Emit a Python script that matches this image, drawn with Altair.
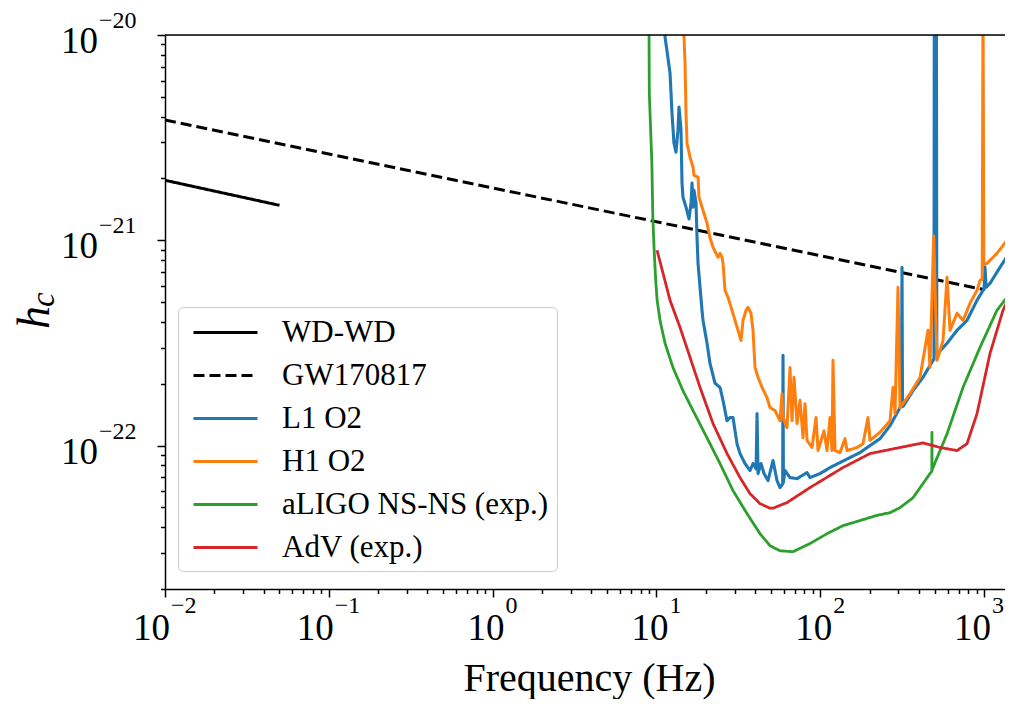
import altair as alt
import pandas as pd

FONT = "Liberation Serif"

series_names = ["WD-WD", "GW170817", "L1 O2", "H1 O2", "aLIGO NS-NS (exp.)", "AdV (exp.)"]
series_colors = ["#000000", "#000000", "#1f77b4", "#ff7f0e", "#2ca02c", "#d62728"]
series_dash = [[1, 0], [11, 5], [1, 0], [1, 0], [1, 0], [1, 0]]
series_width = [3.0, 3.0, 3.1, 3.0, 2.8, 2.8]

wd_f = [0.01, 0.05]
wd_h = [1.96e-21, 1.48e-21]

gw_f = [0.01, 980]
gw_h = [3.85e-21, 5.77e-22]

l1_f = [11.2, 11.29, 12.11, 12.45, 12.80, 13.17, 13.54, 13.74, 14.13, 14.33, 14.53, 15.16, 15.82,
        16.27, 16.50, 16.73, 16.96, 17.45, 17.70, 17.95, 18.98, 19.25, 20.37, 21.24, 22.80, 24.45,
        25.50, 26.98, 28.14, 29.35, 31.05, 32.39, 34.75, 37.27, 38.88, 40.6, 41.14, 41.72, 43.51,
        45.38, 48.01, 51.50, 54.48, 56.83, 59.0, 59.28, 59.6, 60.96, 65.41, 72.20, 83.07, 86.65,
        99.72, 114.8, 132.1, 152.0, 175.0, 201.4, 231.8, 266.8, 307.0, 313.0, 315.8, 318.0, 320.3,
        368.6, 424.3, 488.2, 495.0, 497.0, 512.0, 515.0, 523.7, 594.5, 684.2, 787.3, 906.2, 986.0,
        1000, 1014, 1030, 1088, 1252, 1503]
l1_h = [1.2e-20, 9.78e-21, 6.53e-21, 4.16e-21, 2.97e-21, 2.69e-21, 3.44e-21, 4.46e-21, 3.44e-21,
        1.90e-21, 1.62e-21, 1.45e-21, 1.27e-21, 1.52e-21, 1.90e-21, 1.45e-21, 1.75e-21, 1.52e-21,
        1.03e-21, 7.72e-22, 4.56e-22, 4.07e-22, 3.15e-22, 2.51e-22, 2.01e-22, 1.92e-22, 1.66e-22,
        1.32e-22, 1.37e-22, 1.37e-22, 1.02e-22, 9.14e-23, 8.17e-23, 7.55e-23, 8.17e-23, 7.7e-23,
        1.43e-22, 7.30e-23, 8.17e-23, 7.30e-23, 6.75e-23, 8.45e-23, 6.75e-23, 6.24e-23, 6.5e-23,
        2.75e-22, 6.6e-23, 7.55e-23, 6.98e-23, 6.90e-23, 7.38e-23, 6.98e-23, 7.30e-23, 7.81e-23,
        8.26e-23, 8.74e-23, 9.24e-23, 1.0e-22, 1.08e-22, 1.25e-22, 1.53e-22, 1.55e-22, 7.38e-22,
        1.56e-22, 1.55e-22, 1.85e-22, 2.15e-22, 2.60e-22, 2.63e-22, 1.5e-20, 1.5e-20, 2.78e-22,
        2.81e-22, 3.15e-22, 3.64e-22, 4.07e-22, 5.10e-22, 5.70e-22, 5.75e-22, 7.38e-22, 5.9e-22,
        6.17e-22, 7.38e-22, 9.24e-22]

h1_f = [14.6, 14.74, 14.95, 15.16, 15.38, 16.04, 16.73, 16.96, 17.95, 18.20, 19.25, 20.37, 21.24,
        22.16, 23.78, 24.45, 25.15, 25.50, 26.23, 27.36, 28.94, 30.20, 31.49, 32.85, 33.79, 35.24,
        36.24, 37.80, 38.88, 39.99, 41.72, 44.13, 47.34, 49.38, 52.97, 56.83, 58.45, 59.28, 62.71,
        65.41, 67.27, 69.18, 72.20, 75.31, 78.52, 80.75, 83.07, 89.12, 94.27, 96.96, 105.5, 110.0,
        114.8, 118.0, 119.7, 123.1, 132.1, 141.7, 145.7, 167.8, 182.5, 195.8, 201.4, 231.8, 266.8,
        278.3, 286.2, 298.5, 307.0, 353.4, 406.8, 455.0, 468.0, 493.0, 516.5, 562.0, 594.5, 620.1,
        684.2, 744.5, 821.3, 906.2, 945.5, 975.0, 986.0, 997.0, 1043, 1200, 1382, 1410, 1440, 1503]
h1_h = [1.2e-20, 9.78e-21, 7.30e-21, 4.16e-21, 2.97e-21, 2.54e-21, 2.27e-21, 2.07e-21, 2.03e-21,
        1.62e-21, 1.40e-21, 1.21e-21, 1.03e-21, 9.24e-22, 8.26e-22, 8.64e-22, 8.26e-22, 7.72e-22,
        5.70e-22, 5.27e-22, 4.56e-22, 4.07e-22, 3.64e-22, 3.25e-22, 4.07e-22, 4.56e-22, 4.71e-22,
        4.41e-22, 3.64e-22, 2.40e-22, 2.15e-22, 1.92e-22, 1.71e-22, 1.53e-22, 1.48e-22, 1.32e-22,
        1.79e-22, 1.37e-22, 1.22e-22, 2.40e-22, 1.32e-22, 2.15e-22, 1.28e-22, 1.66e-22, 1.09e-22,
        1.60e-22, 1.06e-22, 9.78e-23, 1.37e-22, 9.45e-23, 1.18e-22, 9.45e-23, 1.37e-22, 9.45e-23,
        2.60e-22, 9.45e-23, 9.24e-23, 1.08e-22, 9.45e-23, 9.78e-23, 1.02e-22, 1.37e-22, 1.06e-22,
        1.16e-22, 1.32e-22, 1.92e-22, 1.43e-22, 5.90e-22, 1.53e-22, 1.79e-22, 2.15e-22, 3.64e-22,
        2.40e-22, 1.05e-21, 2.60e-22, 3.25e-22, 6.60e-22, 3.64e-22, 4.41e-22, 4.07e-22, 4.93e-22,
        5.70e-22, 6.38e-22, 6.45e-22, 1.5e-20, 7.6e-22, 7.72e-22, 8.64e-22, 1.0e-21, 1.5e-20,
        1.03e-21, 1.08e-21]

ligo_f = [9.0, 9.05, 9.38, 9.51, 9.67, 9.90, 10.1, 10.52, 11.29, 12.62, 14.53, 16.73, 20.37, 24.45,
          29.35, 35.74, 42.90, 49.38, 56.83, 68.24, 86.65, 110.0, 137.8, 175.0, 220.3, 266.8, 307.0,
          368.6, 424.3, 468.0, 480.0, 481.0, 482.0, 488.2, 594.5, 744.5, 945.5, 1200, 1441, 1503]
ligo_h = [1.3e-20, 5.21e-21, 2.37e-21, 1.29e-21, 9.24e-22, 6.38e-22, 5.10e-22, 4.07e-22, 3.15e-22,
          2.40e-22, 1.85e-22, 1.48e-22, 1.09e-22, 8.17e-23, 6.03e-23, 4.66e-23, 3.72e-23, 3.25e-23,
          3.07e-23, 3.04e-23, 3.33e-23, 3.72e-23, 4.07e-23, 4.31e-23, 4.56e-23, 4.71e-23, 4.98e-23,
          5.57e-23, 6.53e-23, 7.30e-23, 7.5e-23, 1.16e-22, 7.6e-23, 7.81e-23, 1.14e-22, 1.92e-22,
          3.01e-22, 4.56e-22, 5.51e-22, 5.9e-22]

adv_f = [10.09, 12.11, 13.94, 16.04, 18.46, 22.16, 26.98, 32.39, 37.27, 42.90, 49.38, 51.5, 62.71,
         86.65, 137.8, 201.4, 307.0, 424.3, 538.7, 684.2, 787.3, 906.2, 1088, 1306, 1503]
adv_h = [8.94e-22, 5.10e-22, 3.76e-22, 2.69e-22, 1.92e-22, 1.28e-22, 9.14e-23, 6.98e-23, 5.83e-23,
         5.21e-23, 4.95e-23, 4.95e-23, 5.27e-23, 6.24e-23, 7.81e-23, 9.14e-23, 9.78e-23, 1.03e-22,
         9.78e-23, 9.45e-23, 1.02e-22, 1.43e-22, 2.81e-22, 4.56e-22, 5.83e-22]

x_major = [0.01, 0.1, 1, 10, 100, 1000]
x_exp = ["\u22122", "\u22121", "0", "1", "2", "3"]
y_major = [1e-20, 1e-21, 1e-22]
y_exp = ["\u221220", "\u221221", "\u221222"]

x_ticks = [round(m * k, 6) for m in [0.01, 0.1, 1, 10, 100] for k in range(1, 10)] + [1000]
y_ticks = [m * k for m in [1e-23, 1e-22, 1e-21] for k in range(2, 10)] + y_major

rows = []
for name, fs, hs in [("WD-WD", wd_f, wd_h), ("GW170817", gw_f, gw_h), ("L1 O2", l1_f, l1_h),
                     ("H1 O2", h1_f, h1_h), ("aLIGO NS-NS (exp.)", ligo_f, ligo_h),
                     ("AdV (exp.)", adv_f, adv_h)]:
    for f, h in zip(fs, hs):
        rows.append({"series": name, "f": f, "h": h})
df = pd.DataFrame(rows)

# visible plot area: the page is 1013 px wide with an 8 px margin, so the svg stops at 997 px
W, H = 840, 554
xscale = alt.Scale(type="log", domain=[0.01, 1343], nice=False)
yscale = alt.Scale(type="log", domain=[2e-23, 1e-20], nice=False)

major_test = "abs(log(datum.value)/LN10 - round(log(datum.value)/LN10)) < 0.001"
tick_size = {"condition": {"test": major_test, "value": 8}, "value": 4.5}

xaxis = alt.Axis(values=x_ticks, labels=False, grid=False, tickSize=tick_size, tickColor="black",
                 tickWidth=1.5, domainColor="black", domainWidth=1.5, title="Frequency (Hz)",
                 titleFont=FONT, titleFontSize=40, titleFontWeight="normal", titleColor="black",
                 titleBaseline="alphabetic", titleY=101, titleX=424)
yaxis = alt.Axis(values=y_ticks, labels=False, grid=False, tickSize=tick_size, tickColor="black",
                 tickWidth=1.5, domainColor="black", domainWidth=1.5, title=None)

X = alt.X("f:Q", scale=xscale, axis=xaxis)
Y = alt.Y("h:Q", scale=yscale, axis=yaxis)

legend = alt.Legend(orient="none", legendX=13, legendY=272, title=None, labelFont=FONT,
                    labelFontSize=31, labelColor="black", labelLimit=500,
                    symbolType="M-2,0H2", symbolSize=1024, symbolStrokeWidth=3,
                    symbolOffset=22, labelOffset=39, padding=8, rowPadding=10,
                    strokeColor="#cccccc", cornerRadius=5, fillColor="white")

color = alt.Color("series:N", scale=alt.Scale(domain=series_names, range=series_colors), legend=legend)
dash = alt.StrokeDash("series:N", scale=alt.Scale(domain=series_names, range=series_dash), legend=legend)

layers = []
for name, w in zip(series_names, series_width):
    layers.append(
        alt.Chart(df).transform_filter(alt.datum.series == name)
        .mark_line(clip=True, strokeWidth=w, strokeJoin="round", strokeCap="butt")
        .encode(x=X, y=Y, color=color, strokeDash=dash)
    )

top_spine = alt.Chart(pd.DataFrame({"k": [0]})).mark_rule(color="black", strokeWidth=1.5).encode(
    x=alt.value(0), x2=alt.value(W), y=alt.value(0))

xlab = pd.DataFrame({"f": x_major, "e": x_exp})
ylab = pd.DataFrame({"h": y_major, "e": y_exp})
txt = dict(font=FONT, color="black")


def x_label(filt, dx_base, dx_exp):
    base = alt.Chart(xlab).transform_filter(filt)
    t10 = base.mark_text(align="right", baseline="alphabetic", fontSize=37, dx=dx_base, **txt).encode(
        x=X, y=alt.value(605), text=alt.value("10"))
    tex = base.mark_text(align="left", baseline="alphabetic", fontSize=24, dx=dx_exp, **txt).encode(
        x=X, y=alt.value(578), text="e:N")
    return [t10, tex]


x_labels = (x_label("datum.f < 1", 5, 6)
            + x_label("datum.f >= 1 && datum.f < 1000", 12, 13)
            + x_label("datum.f >= 1000", 7, 8))

yl1 = alt.Chart(ylab).mark_text(align="right", baseline="alphabetic", fontSize=37, dy=18, **txt).encode(
    y=Y, x=alt.value(-67), text=alt.value("10"))
yl2 = alt.Chart(ylab).mark_text(align="left", baseline="alphabetic", fontSize=24, dy=-7, **txt).encode(
    y=Y, x=alt.value(-66), text="e:N")

yt_h = alt.Chart(pd.DataFrame({"k": [0]})).mark_text(
    align="left", baseline="alphabetic", angle=270, fontSize=46, fontStyle="italic", **txt).encode(
    x=alt.value(-116), y=alt.value(294), text=alt.value("h"))
yt_c = alt.Chart(pd.DataFrame({"k": [0]})).mark_text(
    align="left", baseline="alphabetic", angle=270, fontSize=33, fontStyle="italic", **txt).encode(
    x=alt.value(-111), y=alt.value(272), text=alt.value("c"))

chart = alt.layer(*layers, top_spine, *x_labels, yl1, yl2, yt_h, yt_c).properties(
    width=W, height=H,
    autosize=alt.AutoSizeParams(type="none"),
    padding={"left": 157, "top": 27, "right": 0, "bottom": 110},
).configure_view(stroke=None).configure(font=FONT)

chart.save("out.html", embed_options={"renderer": "svg", "actions": False})
